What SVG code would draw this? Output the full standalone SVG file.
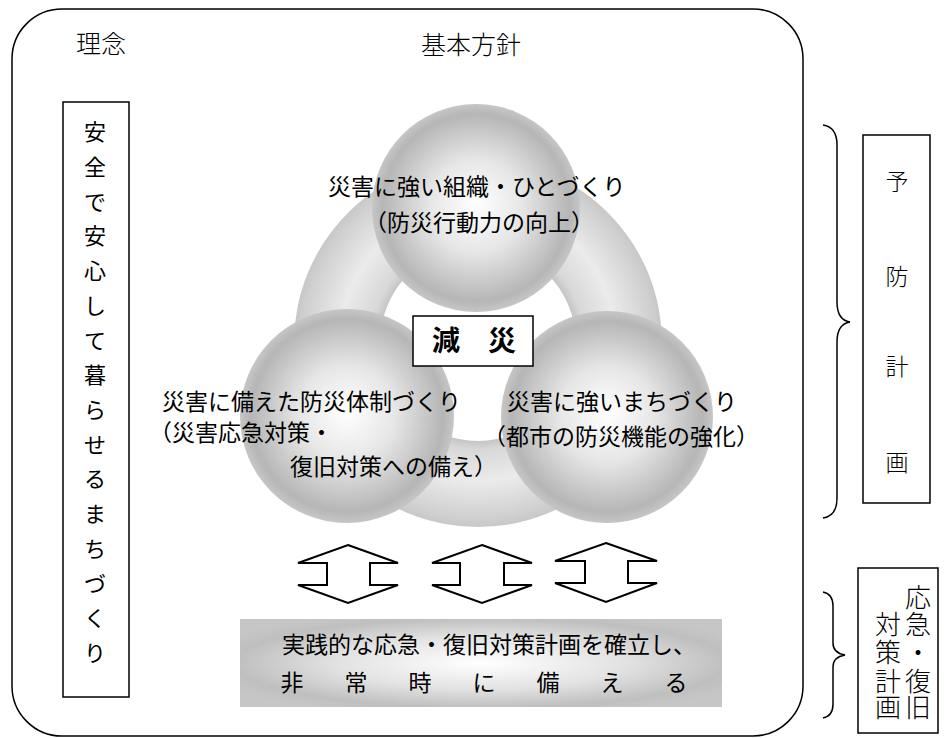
<svg xmlns="http://www.w3.org/2000/svg" width="944" height="738" viewBox="0 0 944 738">
<defs>
  <radialGradient id="sphere" cx="0.5" cy="0.5" r="0.5" fx="0.5" fy="0.48">
    <stop offset="0" stop-color="#ffffff"/>
    <stop offset="0.45" stop-color="#e6e6e6"/>
    <stop offset="0.9" stop-color="#b6b6b6"/>
    <stop offset="1" stop-color="#c6c6c6"/>
  </radialGradient>
  <radialGradient id="ringGrad" gradientUnits="userSpaceOnUse" cx="478" cy="343" r="184">
    <stop offset="0.53" stop-color="#c4c4c4"/>
    <stop offset="0.58" stop-color="#d8d8d8"/>
    <stop offset="0.75" stop-color="#ebebeb"/>
    <stop offset="0.95" stop-color="#d0d0d0"/>
    <stop offset="1" stop-color="#c8c8c8"/>
  </radialGradient>
  <radialGradient id="barGrad" cx="0.5" cy="0.5" r="0.6">
    <stop offset="0" stop-color="#ffffff"/>
    <stop offset="0.5" stop-color="#e2e2e2"/>
    <stop offset="0.85" stop-color="#bfbfbf"/>
    <stop offset="1" stop-color="#c6c6c6"/>
  </radialGradient>
  <style>
    .jp { font-family: "Noto Sans CJK JP", "Noto Sans CJK SC", sans-serif; fill: #000; }
    .t23 { font-size: 23px; }
    .light { font-weight: 300; }
    .box { fill: #fff; stroke: #000; stroke-width: 1.5; }
    .line { fill: none; stroke: #000; stroke-width: 1.5; }
    .arrow { fill: #fff; stroke: #000; stroke-width: 2; stroke-linejoin: miter; }
  </style>
</defs>

<rect width="944" height="738" fill="#fff"/>

<g id="frame">
  <rect class="line" x="12" y="9" width="791" height="727" rx="50" ry="50"/>
</g>

<g id="headings">
  <text class="jp light" x="76" y="53" font-size="25">理念</text>
  <text class="jp light" x="421" y="54" font-size="25">基本方針</text>
</g>

<g id="rinen">
  <rect class="box" x="63" y="102" width="66" height="595"/>
  <text class="jp" font-size="22" text-anchor="middle"
    x="95 95 95 95 95 95 95 95 95 95 95 95 95 95 95 95"
    y="140 175 210 244 279 314 349 383 418 453 487 522 557 592 626 661">安全で安心して暮らせるまちづくり</text>
</g>

<g id="ring">
  <path fill="url(#ringGrad)" fill-rule="evenodd"
    d="M294,343 A184,184 0 1,0 662,343 A184,184 0 1,0 294,343 Z M380,343 A98,98 0 1,0 576,343 A98,98 0 1,0 380,343 Z"/>
</g>

<g id="node-top">
  <circle cx="476" cy="208" r="104" fill="url(#sphere)"/>
  <text class="jp t23" x="328" y="195">災害に強い組織・ひとづくり</text>
  <text class="jp t23" x="364" y="231">（防災行動力の向上）</text>
</g>

<g id="node-left">
  <circle cx="347" cy="416" r="107" fill="url(#sphere)"/>
  <text class="jp t23" x="162" y="410">災害に備えた防災体制づくり</text>
  <text class="jp t23" x="149" y="441">（災害応急対策・</text>
  <text class="jp t23" x="290" y="475">復旧対策への備え）</text>
</g>

<g id="node-right">
  <circle cx="607" cy="417" r="106" fill="url(#sphere)"/>
  <text class="jp t23" x="507" y="410">災害に強いまちづくり</text>
  <text class="jp t23" x="483" y="445">（都市の防災機能の強化）</text>
</g>

<g id="node-gensai">
  <rect class="box" x="413" y="316" width="120" height="50"/>
  <text class="jp" font-size="28" font-weight="bold" x="432" y="351">減　災</text>
</g>

<g id="connectors">
  <polygon class="arrow" points="348,545 398,563 370,563 370,585 398,585 348,603 298,585 327,585 327,563 298,563"/>
  <polygon class="arrow" points="482,545 532,563 504,563 504,585 532,585 482,603 432,585 460,585 460,563 432,563"/>
  <polygon class="arrow" points="606,543 657,561 628,561 628,583 657,583 606,602 555,583 585,583 585,561 555,561"/>
  <path class="line" d="M823,125 Q837,127 837,145 L837,302 Q837,320 850,322 Q837,324 837,342 L837,498 Q837,516 823,518"/>
  <path class="line" d="M823,592 Q833,594 833,606 L833,643 Q833,653 845,655 Q833,657 833,667 L833,704 Q833,716 823,718"/>
</g>

<g id="node-bottom">
  <rect x="240" y="619" width="482" height="88" fill="url(#barGrad)"/>
  <text class="jp t23" x="282" y="653">実践的な応急・復旧対策計画を確立し、</text>
  <text class="jp t23" text-anchor="middle" x="292 356 420 484 548 612 676" y="691">非常時に備える</text>
</g>

<g id="node-yobou">
  <rect class="box" x="863" y="135" width="67" height="368"/>
  <text class="jp light" font-size="23" text-anchor="middle" x="897 897 897 897" y="190 285 375 471">予防計画</text>
</g>

<g id="node-oukyuu">
  <rect class="box" x="858" y="568" width="80" height="165"/>
  <text class="jp light" font-size="26" text-anchor="middle" x="918 918 918 918 918" y="607 634 662 691 717">応急・復旧</text>
  <text class="jp light" font-size="26" text-anchor="middle" x="888 888 888 888" y="634 662 691 717">対策計画</text>
</g>
</svg>
